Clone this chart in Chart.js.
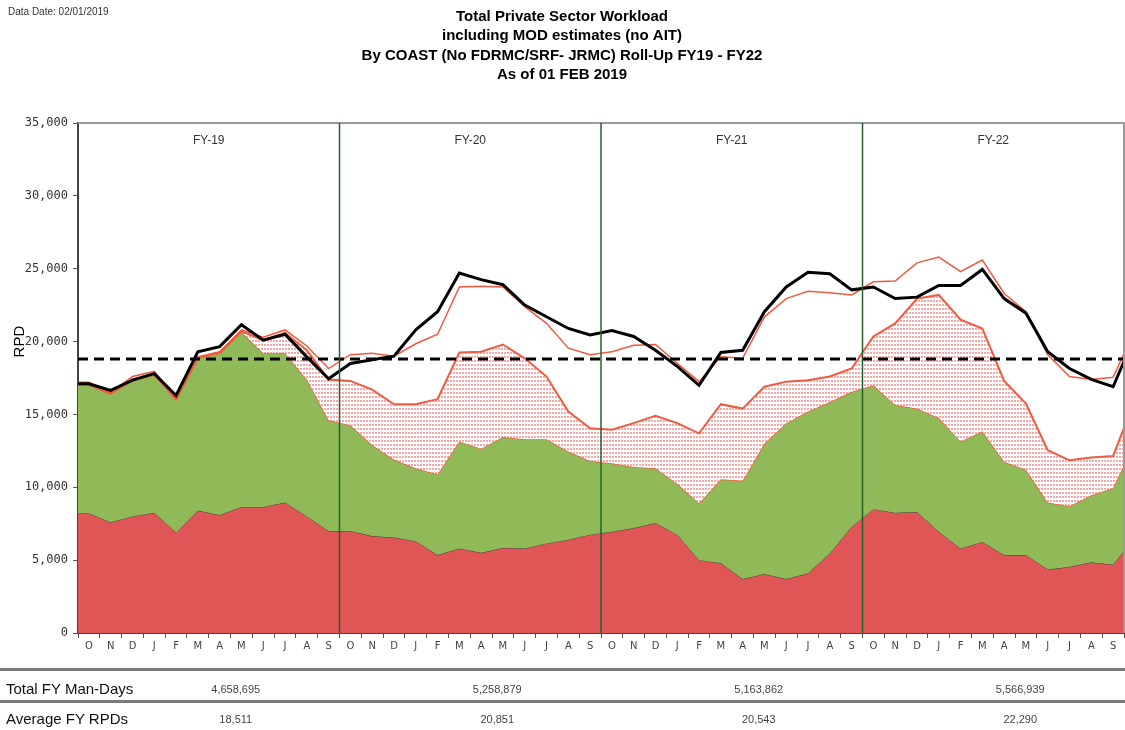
<!DOCTYPE html>
<html>
<head>
<meta charset="utf-8">
<title>Total Private Sector Workload</title>
<script src="https://cdn.jsdelivr.net/npm/chart.js@4.4.1/dist/chart.umd.min.js"></script>
<style>
  html, body { margin: 0; padding: 0; background: #fff; }
  #wrap { position: relative; width: 1125px; height: 730px; overflow: hidden; font-family: "Liberation Sans", Arial, sans-serif; }
  #workload { display: block; }
  #dataDate { position: absolute; left: 8px; top: 6px; font-size: 10px; color: #333; }
  .rule { position: absolute; left: 0; width: 1125px; height: 3px; background: #7a7a7a; }
  .rowLabel { position: absolute; left: 6px; font-size: 15px; color: #111; line-height: 18px; }
  .cell { position: absolute; font-family: "Liberation Sans Narrow", "Liberation Sans", sans-serif; font-size: 11px; color: #444; line-height: 14px; transform: translateX(-50%); white-space: nowrap; }
</style>
</head>
<body>
<div id="wrap">
  <canvas id="workload" width="1125" height="730"></canvas>
  <div id="dataDate">Data Date: 02/01/2019</div>
  <div class="rule" style="top:668px"></div>
  <div class="rule" style="top:700px"></div>
  <div class="rowLabel" style="top:680px">Total FY Man-Days</div>
  <div class="rowLabel" style="top:710px">Average FY RPDs</div>
</div>
<script>
// fiscal years and month letters (Oct..Sep)
const fiscalYears = ["FY-19", "FY-20", "FY-21", "FY-22"];
const monthLetters = ["O", "N", "D", "J", "F", "M", "A", "M", "J", "J", "A", "S"];

// cumulative levels, Oct FY19 .. Sep FY22,
// last value is the Oct FY23 point that is cut off at the right edge
const redTop = [
  8200, 7600, 8000, 8250, 6900, 8400, 8100, 8650, 8650, 8950, 8000, 7000,
  7000, 6650, 6550, 6300, 5350, 5800, 5500, 5850, 5800, 6150, 6400, 6750,
  6950, 7200, 7550, 6750, 5000, 4800, 3700, 4050, 3700, 4100, 5450, 7300,
  8500, 8250, 8300, 6950, 5800, 6250, 5350, 5350, 4350, 4550, 4850, 4700,
  6600
];
const greenTop = [
  17000, 16400, 17300, 17700, 16000, 18850, 19200, 20650, 19200, 19200, 17400, 14600,
  14250, 12900, 11900, 11300, 10900, 13150, 12650, 13450, 13300, 13300, 12450, 11800,
  11650, 11400, 11300, 10250, 8900, 10550, 10450, 13000, 14400, 15200, 15850, 16550,
  17000, 15650, 15400, 14750, 13150, 13850, 11750, 11200, 8950, 8700, 9450, 9950,
  13100
];
const dottedTop = [
  17050, 16450, 17400, 17800, 16050, 18900, 19250, 20700, 20100, 20600, 19400, 17400,
  17300, 16700, 15700, 15700, 16050, 19250, 19300, 19800, 18850, 17600, 15200, 14050,
  13950, 14400, 14900, 14400, 13700, 15700, 15400, 16900, 17250, 17350, 17600, 18150,
  20350, 21250, 22950, 23200, 21500, 20900, 17300, 15750, 12550, 11850, 12050, 12150,
  16000
];
const upperLine = [
  17200, 16500, 17600, 17950, 16100, 18950, 19300, 20800, 20300, 20800, 19700, 18150,
  19100, 19200, 19000, 19850, 20500, 23750, 23800, 23750, 22400, 21250, 19550, 19100,
  19300, 19750, 19800, 18500, 17250, 18950, 18850, 21700, 22950, 23450, 23350, 23200,
  24100, 24150, 25400, 25800, 24800, 25600, 23300, 22050, 19100, 17600, 17400, 17550,
  20800
];
const totalLine = [
  17100, 16650, 17350, 17800, 16300, 19300, 19650, 21150, 20100, 20500, 18950, 17450,
  18500, 18750, 19000, 20800, 22050, 24700, 24250, 23900, 22500, 21700, 20900, 20450,
  20750, 20350, 19400, 18300, 17000, 19250, 19400, 22050, 23750, 24750, 24650, 23550,
  23750, 22950, 23050, 23850, 23850, 24950, 22950, 21950, 19300, 18150, 17400, 16900,
  20400
];
const capacityRpd = 18800;

// summary table
const manDays = [4658695, 5258879, 5163862, 5566939];
const avgRpd = [18511, 20851, 20543, 22290];

const monthCount = fiscalYears.length * monthLetters.length;
const tickLabels = fiscalYears.flatMap(() => monthLetters);

// month i sits in the middle of its slot; the first value also fills the left edge
function toPoints(vals) {
  return [{ x: 0, y: vals[0] }].concat(vals.map((y, i) => ({ x: i + 0.5, y: y })));
}

function dotPattern() {
  const tile = document.createElement("canvas");
  tile.width = 3;
  tile.height = 4;
  const t = tile.getContext("2d");
  t.fillStyle = "#ffffff";
  t.fillRect(0, 0, 3, 4);
  t.fillStyle = "#f5a8a8";
  t.fillRect(0, 0, 2, 2);
  return t.createPattern(tile, "repeat");
}

const lineRed = "#ef5a40";

const fyDecor = {
  id: "fyDecor",
  afterDatasetsDraw(chart) {
    const { ctx, chartArea: a, scales: { x, y } } = chart;
    ctx.save();
    // frame top and right
    ctx.strokeStyle = "#9a9a9a";
    ctx.lineWidth = 2;
    ctx.beginPath();
    ctx.moveTo(a.left, a.top);
    ctx.lineTo(a.right, a.top);
    ctx.lineTo(a.right, a.bottom);
    ctx.stroke();
    // fiscal year dividers and labels
    ctx.font = "12px 'Liberation Sans', Arial, sans-serif";
    ctx.fillStyle = "#333";
    ctx.textAlign = "center";
    ctx.textBaseline = "middle";
    fiscalYears.forEach((fy, k) => {
      const start = k * monthLetters.length;
      if (k > 0) {
        const px = x.getPixelForValue(start);
        ctx.strokeStyle = "#23622e";
        ctx.lineWidth = 1.5;
        ctx.beginPath();
        ctx.moveTo(px, a.top);
        ctx.lineTo(px, a.bottom);
        ctx.stroke();
      }
      ctx.fillText(fy, x.getPixelForValue(start + monthLetters.length / 2), a.top + 18);
    });
    // axis title
    ctx.font = "15px 'Liberation Sans', Arial, sans-serif";
    ctx.fillStyle = "#000";
    ctx.translate(a.left - 58, y.getPixelForValue(20000));
    ctx.rotate(-Math.PI / 2);
    ctx.fillText("RPD", 0, 0);
    ctx.restore();
  }
};

const chart = new Chart(document.getElementById("workload"), {
  type: "line",
  data: {
    datasets: [
      {
        data: toPoints(redTop),
        fill: "origin",
        backgroundColor: "#e05555",
        borderColor: "#4a3a34",
        borderWidth: 1,
        order: 6
      },
      {
        data: toPoints(greenTop),
        fill: "-1",
        backgroundColor: "#8fba57",
        borderColor: lineRed,
        borderWidth: 1.5,
        order: 5
      },
      {
        data: toPoints(dottedTop),
        fill: "-1",
        backgroundColor: dotPattern(),
        borderColor: lineRed,
        borderWidth: 2,
        order: 4
      },
      {
        data: toPoints(upperLine),
        fill: false,
        borderColor: lineRed,
        borderWidth: 1.5,
        order: 3
      },
      {
        data: toPoints(upperLine.map(() => capacityRpd)),
        fill: false,
        borderColor: "#000",
        borderWidth: 3,
        borderDash: [10, 6],
        order: 2
      },
      {
        data: toPoints(totalLine),
        fill: false,
        borderColor: "#000",
        borderWidth: 3,
        order: 1
      }
    ]
  },
  options: {
    responsive: false,
    animation: false,
    layout: { padding: { top: 0, left: 0, right: 1, bottom: 75 } },
    elements: { point: { radius: 0 }, line: { tension: 0 } },
    plugins: {
      legend: { display: false },
      tooltip: { enabled: false },
      title: {
        display: true,
        text: [
          "Total Private Sector Workload",
          "including MOD estimates (no AIT)",
          "By COAST (No FDRMC/SRF- JRMC) Roll-Up FY19 - FY22",
          "As of 01 FEB 2019"
        ],
        color: "#000",
        font: { family: "'Liberation Sans', Arial, sans-serif", size: 15, weight: "bold", lineHeight: 1.3 },
        padding: { top: 7, bottom: 38 }
      }
    },
    scales: {
      x: {
        type: "linear",
        min: 0,
        max: monthCount,
        afterFit(scale) { scale.height = 22; },
        afterBuildTicks(scale) {
          scale.ticks = tickLabels.map((m, i) => ({ value: i + 0.5 }));
        },
        ticks: {
          autoSkip: false,
          maxRotation: 0,
          minRotation: 0,
          padding: 2,
          color: "#444",
          font: { family: "'DejaVu Sans', sans-serif", size: 10 },
          callback: (v, i) => tickLabels[i]
        },
        grid: { offset: true, drawOnChartArea: false, tickLength: 5, color: "#555" },
        border: { color: "#444", width: 2 }
      },
      y: {
        min: 0,
        max: 35000,
        afterFit(scale) { scale.width = 78; },
        ticks: {
          stepSize: 5000,
          padding: 5,
          color: "#333",
          font: { family: "'DejaVu Sans Mono', monospace", size: 12 },
          callback: (v) => v.toLocaleString("en-US")
        },
        grid: { drawOnChartArea: false, tickLength: 5, color: "#555" },
        border: { color: "#444", width: 2 }
      }
    }
  },
  plugins: [fyDecor]
});

// table values under each fiscal year block
const wrap = document.getElementById("wrap");
function addCell(text, cx, top) {
  const d = document.createElement("div");
  d.className = "cell";
  d.style.left = cx + "px";
  d.style.top = top + "px";
  d.textContent = text;
  wrap.appendChild(d);
}
fiscalYears.forEach((fy, k) => {
  const cx = chart.scales.x.getPixelForValue(k * monthLetters.length + monthLetters.length / 2) + 27;
  addCell(manDays[k].toLocaleString("en-US"), cx, 682);
  addCell(avgRpd[k].toLocaleString("en-US"), cx, 712);
});
</script>
</body>
</html>
